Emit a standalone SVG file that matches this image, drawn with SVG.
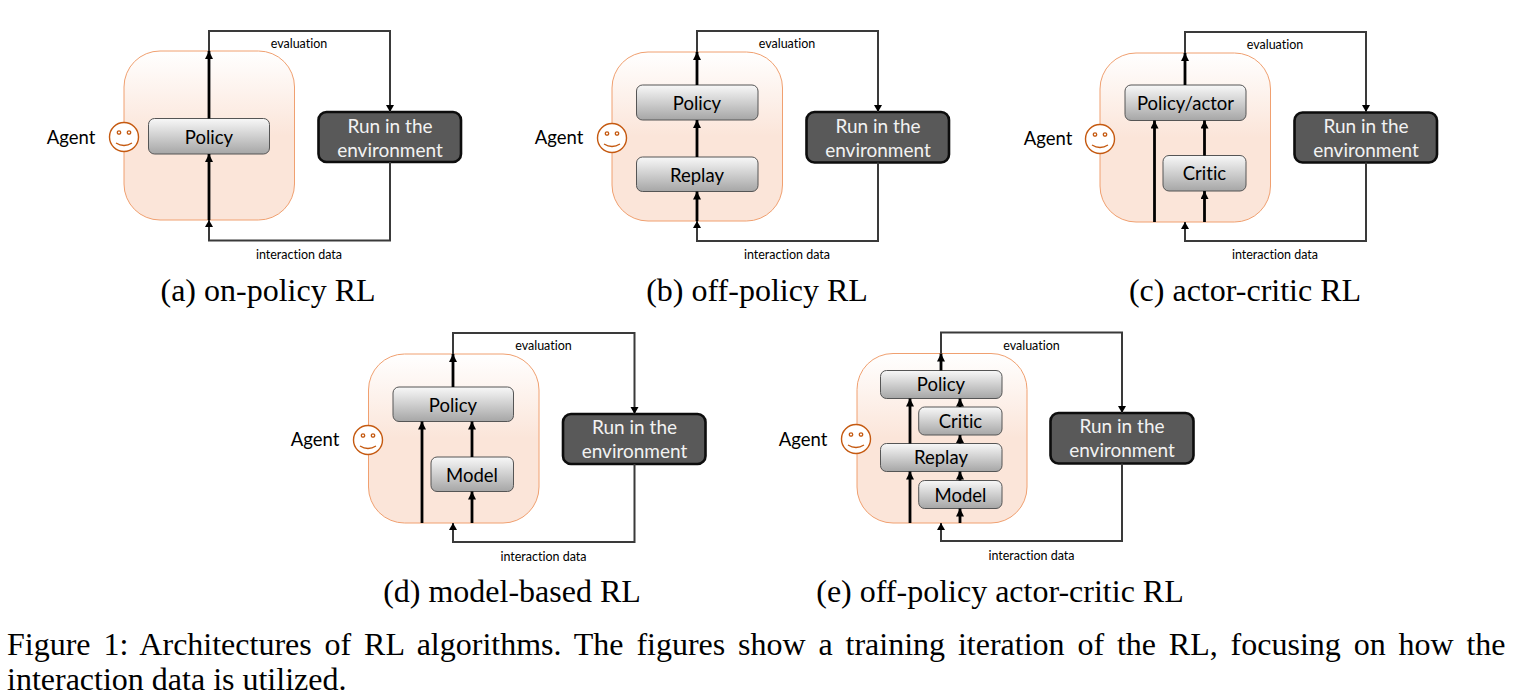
<svg xmlns="http://www.w3.org/2000/svg" width="1518" height="699" viewBox="0 0 1518 699">
<style>
.agent{fill:url(#ag);stroke:#f0a070;stroke-width:1}
.box{fill:url(#bx);stroke:#555;stroke-width:1}
.env{fill:#595959;stroke:#0d0d0d;stroke-width:2.6}
.smile{fill:#fff;stroke:#c55a11;stroke-width:1.4}
.face{fill:none;stroke:#c55a11;stroke-width:1.3}
.t{font-family:Lato,"Open Sans",sans-serif;font-size:18.5px;text-anchor:middle;fill:#000;font-variant-ligatures:none}
.w{fill:#f2f2f2;font-size:19px}
.s{font-size:12.5px}
.cap{font-family:"Liberation Serif",serif;font-size:32px;text-anchor:middle;fill:#000}
.para{font-family:"Liberation Serif",serif;font-size:32px;fill:#000}
.a{fill:none;stroke:#000;stroke-width:2.8;marker-end:url(#ah)}
.ad{fill:none;stroke:#3a3a3a;stroke-width:2;marker-end:url(#ah2)}
</style>
<defs>
<linearGradient id="ag" x1="0" y1="0" x2="0" y2="1"><stop offset="0" stop-color="#fff"/><stop offset=".5" stop-color="#fbe5d9"/><stop offset="1" stop-color="#fbe5d9"/></linearGradient>
<linearGradient id="bx" x1="0" y1="0" x2="0" y2="1"><stop offset="0" stop-color="#f8f8f8"/><stop offset="1" stop-color="#a6a6a6"/></linearGradient>
<marker id="ah" markerUnits="userSpaceOnUse" markerWidth="10" markerHeight="10" refX="8" refY="4" orient="auto"><path d="M0 0L8 4L0 8Z" fill="#000"/></marker>
<marker id="ah2" markerUnits="userSpaceOnUse" markerWidth="10" markerHeight="10" refX="7" refY="4" orient="auto"><path d="M0 0L7 4L0 8Z" fill="#000"/></marker>
<g id="sm"><circle r="14.5" class="smile"/><circle cx="-5" cy="-4.5" r="1.7" class="face"/><circle cx="5" cy="-4.5" r="1.7" class="face"/><path d="M-8 6Q0 11 8 6" class="face"/></g>
</defs>
<rect width="1518" height="699" fill="#fff"/>

<g id="panel-a">
<g id="a-agent"><rect x="124" y="51" width="170.500" height="169" rx="36" class="agent"/><use href="#sm" x="124" y="137"/><text x="71" y="144" class="t">Agent</text></g>
<g id="a-policy"><rect x="148.500" y="118.500" width="121" height="35.500" rx="6" class="box"/><text x="209" y="143.500" class="t">Policy</text></g>
<g id="a-env"><rect x="318.500" y="112" width="142.500" height="50" rx="8" class="env"/><text x="390" y="132.500" class="t w">Run in the</text><text x="390" y="156.500" class="t w">environment</text></g>
<text x="299" y="47.500" class="t s">evaluation</text><text x="299" y="258.500" class="t s">interaction data</text>
<text x="268" y="301" class="cap">(a) on-policy RL</text>
</g>

<g id="panel-b">
<g id="b-agent"><rect x="612" y="52" width="170.500" height="169" rx="36" class="agent"/><use href="#sm" x="612" y="138"/><text x="559" y="144" class="t">Agent</text></g>
<g id="b-policy"><rect x="636.500" y="85" width="121.500" height="35" rx="6" class="box"/><text x="697" y="109.500" class="t">Policy</text></g>
<g id="b-replay"><rect x="636.500" y="157" width="121.500" height="34.500" rx="6" class="box"/><text x="697" y="181.500" class="t">Replay</text></g>
<g id="b-env"><rect x="806.500" y="112" width="142.500" height="50.500" rx="8" class="env"/><text x="878" y="132.500" class="t w">Run in the</text><text x="878" y="156.500" class="t w">environment</text></g>
<text x="787" y="47.500" class="t s">evaluation</text><text x="787" y="258.500" class="t s">interaction data</text>
<text x="757" y="301" class="cap">(b) off-policy RL</text>
</g>

<g id="panel-c">
<g id="c-agent"><rect x="1100" y="53" width="170.500" height="169" rx="36" class="agent"/><use href="#sm" x="1100" y="139"/><text x="1048" y="145" class="t">Agent</text></g>
<g id="c-policy"><rect x="1125" y="85" width="121" height="35.500" rx="6" class="box"/><text x="1185.500" y="110" class="t">Policy/actor</text></g>
<g id="c-critic"><rect x="1163" y="155.500" width="83" height="35.500" rx="6" class="box"/><text x="1204.500" y="180" class="t">Critic</text></g>
<g id="c-env"><rect x="1294.500" y="112.500" width="142.500" height="50" rx="8" class="env"/><text x="1366" y="132.500" class="t w">Run in the</text><text x="1366" y="156.500" class="t w">environment</text></g>
<text x="1275" y="48.500" class="t s">evaluation</text><text x="1275" y="258.500" class="t s">interaction data</text>
<text x="1245" y="301" class="cap">(c) actor-critic RL</text>
</g>

<g id="panel-d">
<g id="d-agent"><rect x="368.500" y="354" width="170.500" height="169" rx="36" class="agent"/><use href="#sm" x="368" y="440"/><text x="315" y="446" class="t">Agent</text></g>
<g id="d-policy"><rect x="393" y="387" width="120.500" height="34.500" rx="6" class="box"/><text x="453" y="411.500" class="t">Policy</text></g>
<g id="d-model"><rect x="431" y="457" width="82.500" height="34.500" rx="6" class="box"/><text x="472" y="481.500" class="t">Model</text></g>
<g id="d-env"><rect x="563" y="414" width="142.500" height="50" rx="8" class="env"/><text x="634.500" y="434" class="t w">Run in the</text><text x="634.500" y="458" class="t w">environment</text></g>
<text x="543.500" y="349.500" class="t s">evaluation</text><text x="543.500" y="560.500" class="t s">interaction data</text>
<text x="512" y="602" class="cap">(d) model-based RL</text>
</g>

<g id="panel-e">
<g id="e-agent"><rect x="857" y="353.500" width="170" height="169.500" rx="36" class="agent"/><use href="#sm" x="856" y="439"/><text x="803" y="446" class="t">Agent</text></g>
<g id="e-policy"><rect x="880.500" y="370.500" width="121.500" height="28" rx="6" class="box"/><text x="941" y="391" class="t">Policy</text></g>
<g id="e-critic"><rect x="918.700" y="407" width="83.300" height="28" rx="6" class="box"/><text x="960.500" y="428" class="t">Critic</text></g>
<g id="e-replay"><rect x="880.500" y="443.500" width="121.500" height="28" rx="6" class="box"/><text x="941" y="464" class="t">Replay</text></g>
<g id="e-model"><rect x="918.700" y="480.500" width="83.300" height="28" rx="6" class="box"/><text x="960.500" y="502" class="t">Model</text></g>
<g id="e-env"><rect x="1050.500" y="413" width="143" height="50.500" rx="8" class="env"/><text x="1122" y="433" class="t w">Run in the</text><text x="1122" y="457" class="t w">environment</text></g>
<text x="1031.500" y="349.500" class="t s">evaluation</text><text x="1031.500" y="559.500" class="t s">interaction data</text>
<text x="1000" y="602" class="cap">(e) off-policy actor-critic RL</text>
</g>

<g id="connectors">
<path class="a" d="M209 118.500V51"/><path class="a" d="M209 220V154"/>
<path class="ad" d="M209 51V31H390V112"/><path class="ad" d="M390 162V240.500H209V220"/>
<path class="a" d="M697 85V52"/><path class="a" d="M697 157V120"/><path class="a" d="M697 221V191.500"/>
<path class="ad" d="M697 52V31H878V112"/><path class="ad" d="M878 162.500V241H697V221"/>
<path class="a" d="M1185 85V53"/><path class="a" d="M1154.500 222V120.500"/><path class="a" d="M1204.500 155.500V120.500"/><path class="a" d="M1204.500 222V191"/>
<path class="ad" d="M1185 53V32H1366V112"/><path class="ad" d="M1366 162.500V241H1185V222"/>
<path class="a" d="M453 387V354"/><path class="a" d="M422 523V421.500"/><path class="a" d="M472 457V421.500"/><path class="a" d="M472 523V491.500"/>
<path class="ad" d="M453 354V333H634.500V414"/><path class="ad" d="M634.500 464V542H453V523"/>
<path class="a" d="M941 370.500V353.500"/><path class="a" d="M910 443.500V398.500"/><path class="a" d="M960 407V398.500"/><path class="a" d="M960 443.500V435"/><path class="a" d="M910 523V471.500"/><path class="a" d="M960 480.500V471.500"/><path class="a" d="M960 523V508.500"/>
<path class="ad" d="M941 353.500V332.500H1122V413"/><path class="ad" d="M1122 463.500V541H941V523"/>
</g>

<g id="caption">
<text x="7" y="655" class="para" word-spacing="4.85">Figure 1: Architectures of RL algorithms. The figures show a training iteration of the RL, focusing on how the</text>
<text x="7" y="690" class="para">interaction data is utilized.</text>
</g>
</svg>
